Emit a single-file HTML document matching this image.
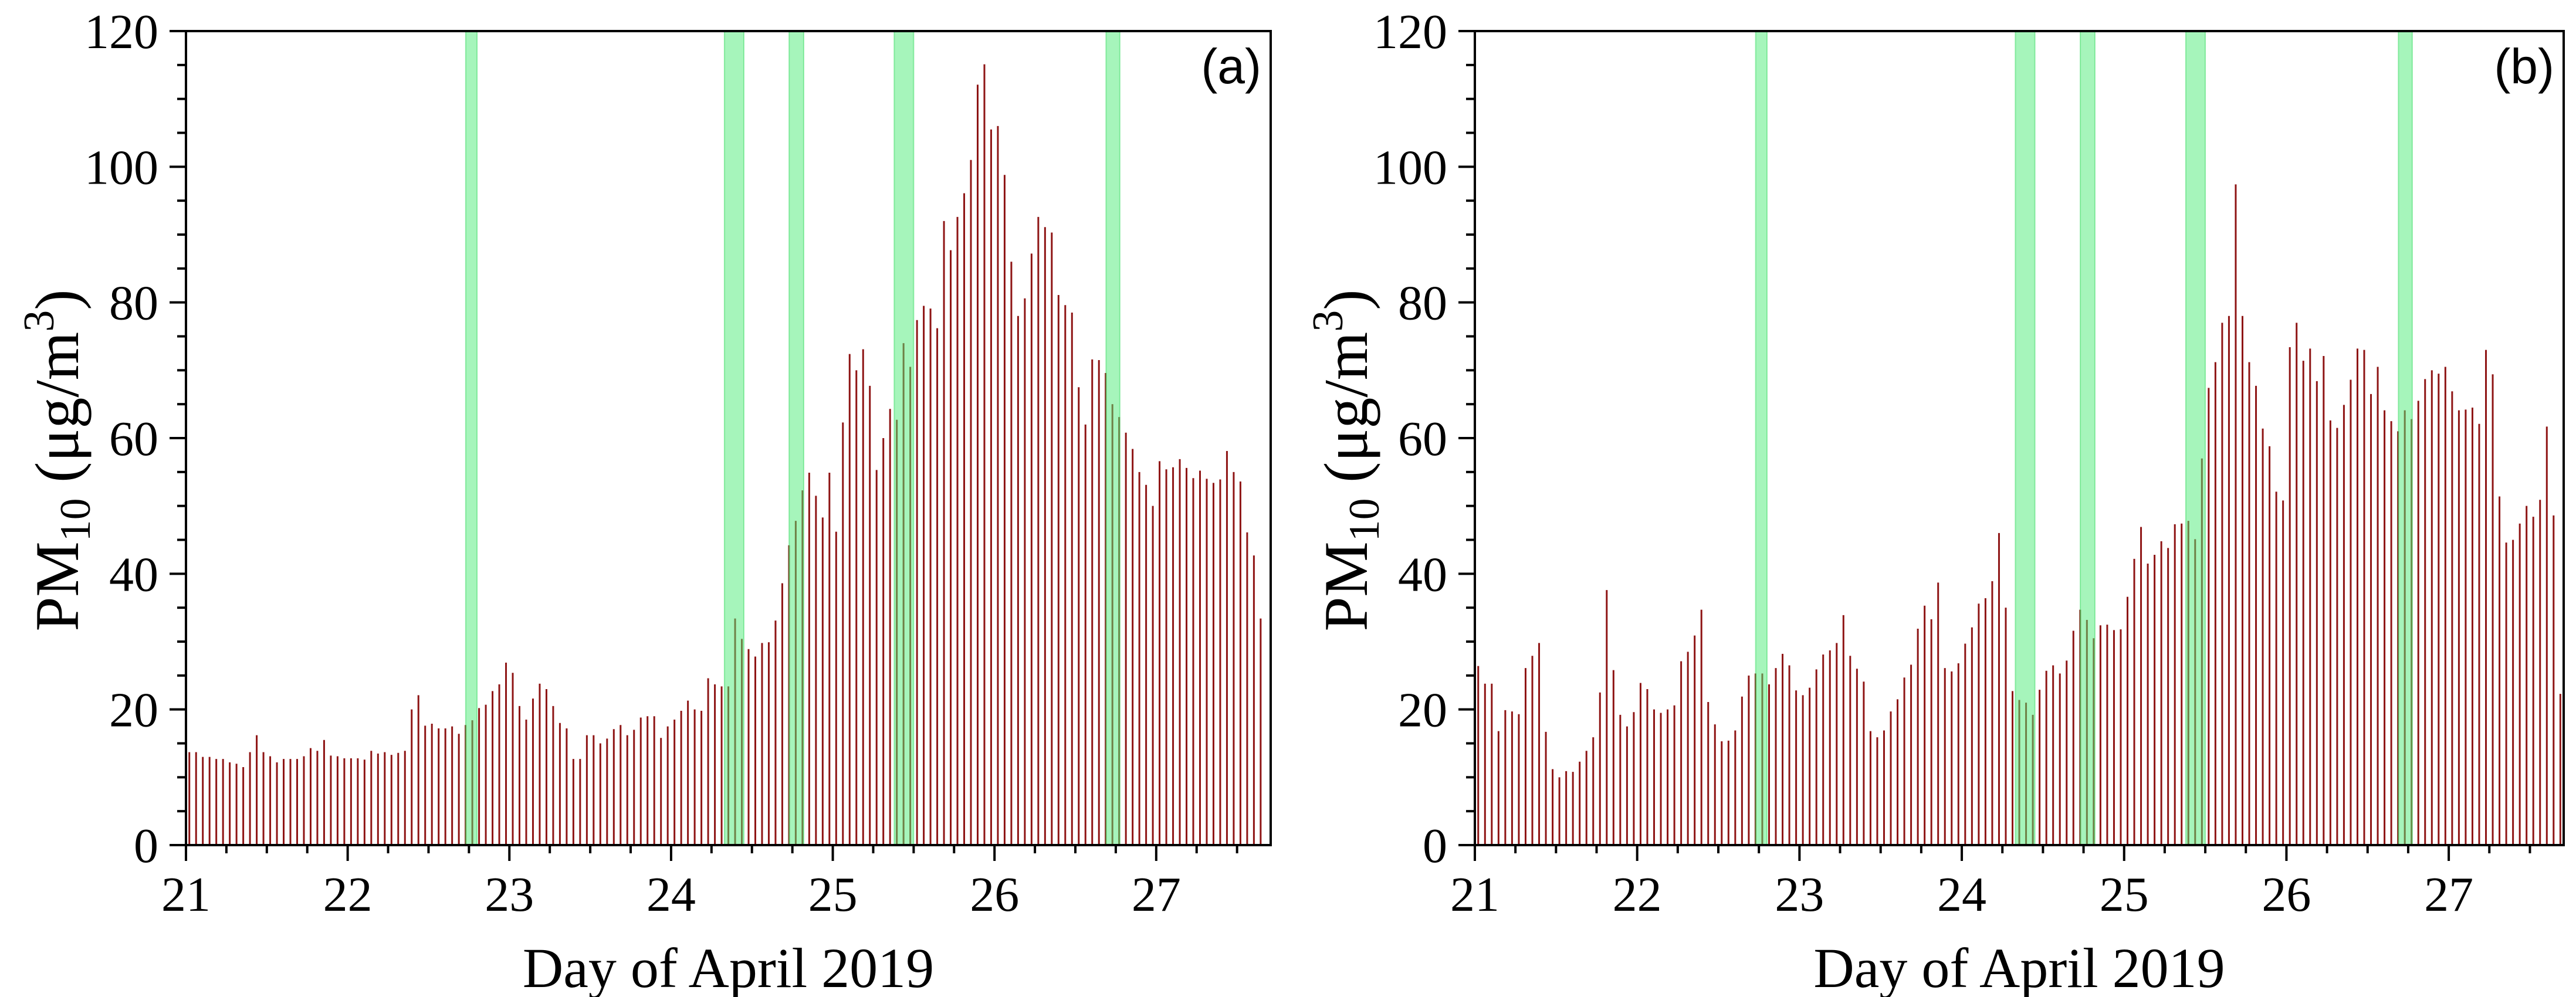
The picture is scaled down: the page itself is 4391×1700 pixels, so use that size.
<!DOCTYPE html>
<html><head><meta charset="utf-8"><style>
html,body{margin:0;padding:0;background:#fff;}
svg{display:block;}
text{font-family:"Liberation Serif",serif;fill:#000;}
</style></head><body>
<svg id="chart" width="4391" height="1700" viewBox="0 0 4391 1700" xmlns="http://www.w3.org/2000/svg"></svg>
<script>
const aVals=[13.7,13.7,13.0,13.0,12.7,12.7,12.2,12.0,11.5,13.7,16.2,13.7,13.1,12.2,12.7,12.7,12.7,13.1,14.3,13.9,15.5,13.2,13.1,12.8,12.8,12.8,12.6,13.9,13.5,13.7,13.3,13.6,13.9,
20.0,22.1,17.6,17.9,17.2,17.2,17.5,16.4,17.7,18.4,20.2,20.7,22.7,23.7,26.9,25.4,20.5,18.5,21.6,23.8,23.0,20.5,18.0,17.2,12.7,12.7,16.2,16.2,15.0,15.7,17.1,17.7,16.2,17.0,18.8,
19.0,19.0,15.8,17.5,18.5,19.8,21.3,20.0,19.8,24.6,23.7,23.4,23.4,33.4,30.4,28.9,27.8,29.8,29.9,33.1,38.6,44.2,47.8,52.3,54.9,51.5,48.3,54.9,46.2,62.3,72.4,70.0,73.1,67.7,55.3,60.0,64.3,62.7,74.0,70.5,77.4,79.5,79.1,76.2,92.0,87.7,92.6,96.1,101.0,112.1,115.1,105.5,106.0,98.8,86.0,78.0,80.6,87.2,92.6,91.1,90.3,81.1,79.6,78.5,67.5,62.0,71.6,71.5,69.6,65.0,63.1,60.8,58.4,55.0,53.1,50.0,56.6,55.4,55.7,56.9,55.6,54.1,55.2,54.0,53.4,53.9,58.1,55.0,53.6,46.1,42.7,33.4];
const bVals=[26.4,23.8,23.8,16.8,19.9,19.7,19.3,26.1,27.9,29.8,16.7,11.2,10.0,10.9,10.8,12.3,13.9,15.9,22.5,37.6,25.8,19.2,17.5,19.6,23.9,23.0,20.0,19.5,20.0,20.6,27.1,28.5,30.9,34.7,21.1,17.8,15.3,15.4,16.9,21.9,25.0,25.3,25.3,23.7,26.1,28.2,26.5,22.8,22.1,23.2,25.9,28.1,28.7,29.8,33.9,27.9,26.0,24.1,16.8,15.9,16.9,19.7,21.5,24.7,26.6,31.9,35.3,33.3,38.7,26.1,25.6,26.8,29.7,32.1,35.6,36.4,38.9,46.0,35.0,22.7,21.4,
21.0,19.2,22.9,25.7,26.5,25.3,27.2,31.6,34.7,33.2,30.5,32.4,32.5,31.7,31.8,36.6,42.2,46.9,41.5,42.8,44.8,43.8,47.3,47.4,47.8,45.1,57.0,67.4,71.2,77.0,78.0,97.4,78.0,71.2,67.7,61.4,58.8,52.1,50.8,73.4,77.0,71.4,73.2,68.4,72.1,62.6,61.5,64.9,68.6,73.2,73.0,66.5,70.5,64.1,62.5,61.0,64.1,62.8,65.5,68.7,70.0,69.5,70.5,66.9,64.1,64.2,64.5,62.1,73.0,69.4,51.4,44.6,45.0,47.4,50.0,48.4,50.9,61.7,48.6,22.3];
const bandStarts=[22.73,24.33,24.73,25.38,26.69];
const bandEnds=[22.80,24.45,24.82,25.50,26.775];
const yTicks=[0,20,40,60,80,100,120];
const xTicks=[21,22,23,24,25,26,27];
const panelLabels=["(a)","(b)"];

const NS="http://www.w3.org/2000/svg";
const svg=document.getElementById('chart');
function mk(tag,attrs,parent){const e=document.createElementNS(NS,tag);for(const k in attrs)e.setAttribute(k,attrs[k]);(parent||svg).appendChild(e);return e;}

function panel(vals,left,right,label,pname){
  const top=53,bottom=1441,d0=21,d1=27.708;
  const g=mk('g',{});
  
  
  const xs=d=>left+(d-d0)/(d1-d0)*(right-left);
  const ys=v=>bottom-v/120*(bottom-top);
  const bg=mk('g',{},g);
  
  
  vals.forEach((v,i)=>{
    const x=xs(d0+(i+0.5)/24);
    const l=mk('line',{x1:x,x2:x,y1:bottom,y2:ys(v),stroke:'#8e1414','stroke-width':3},bg);
    
    
  });
  bandStarts.forEach((s,i)=>{
    const r=mk('rect',{x:xs(s),y:top,width:xs(bandEnds[i])-xs(s),height:bottom-top,fill:'rgba(77,235,119,0.5)',stroke:'rgba(60,220,100,0.5)','stroke-width':2},g);
    
    
  });
  const f=mk('rect',{x:left,y:top,width:right-left,height:bottom-top,fill:'none',stroke:'#000','stroke-width':4},g);
  
  
  for(let v=0;v<=120;v+=5){
    const major=v%20===0;
    mk('line',{x1:left-(major?28:15),x2:left,y1:ys(v),y2:ys(v),stroke:'#000','stroke-width':4},g);
  }
  yTicks.forEach(v=>{
    const t=mk('text',{x:left-47,y:ys(v)+29,'text-anchor':'end','font-size':84},g);
    t.textContent=v;
    
    
  });
  for(let q=0;q<=26;q++){
    const d=d0+q/4; if(d>d1) break;
    const major=q%4===0;
    mk('line',{x1:xs(d),x2:xs(d),y1:bottom,y2:bottom+(major?27:14),stroke:'#000','stroke-width':4},g);
  }
  xTicks.forEach(d=>{
    const t=mk('text',{x:xs(d),y:1553,'text-anchor':'middle','font-size':84},g);
    t.textContent=d;
    
    
  });
  const xt=mk('text',{x:(left+right)/2,y:1683,'text-anchor':'middle','font-size':96},g);
  xt.textContent='Day of April 2019';
  
  
  const yt=mk('text',{transform:`translate(${left-184},785) rotate(-90)`,'text-anchor':'middle','font-size':106},g);
  yt.innerHTML='PM<tspan font-size="74" dy="20">10</tspan><tspan dy="-20"> (μg/m</tspan><tspan font-size="74" dy="-42">3</tspan><tspan dy="42">)</tspan>';
  
  
  const pl=mk('text',{x:right-16,y:142,'text-anchor':'end','font-size':84,style:'font-family:"Liberation Sans",sans-serif'},g);
  pl.textContent=label;
  
  
}
panel(aVals,317,2166,panelLabels[0],'panel-a');
panel(bVals,2514,4370,panelLabels[1],'panel-b');
</script>
</body></html>
